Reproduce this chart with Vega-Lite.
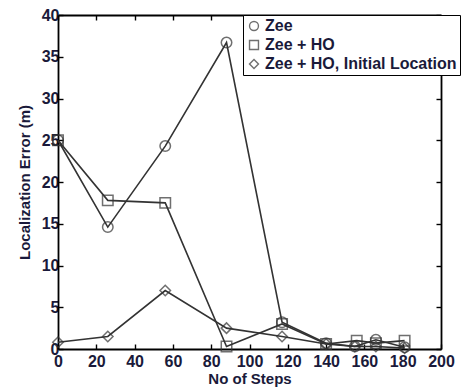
{
  "$schema": "https://vega.github.io/schema/vega-lite/v6.json",
  "autosize": "none",
  "width": 383,
  "height": 334,
  "padding": {"left": 58, "top": 15, "right": 25, "bottom": 42},
  "background": "white",
  "config": {
    "font": "Liberation Sans",
    "view": {"stroke": null},
    "axis": {
      "domainColor": "black", "domainWidth": 1.8, "tickColor": "black",
      "tickSize": -5, "tickWidth": 1.4, "grid": false, "labelFlush": false,
      "labelFont": "Liberation Sans", "labelFontWeight": "bold", "labelFontSize": 16, "labelColor": "#1a1a3a",
      "titleFont": "Liberation Sans", "titleFontWeight": "bold", "titleFontSize": 15, "titleColor": "#1a1a3a"
    }
  },
  "data": {"values": [
    {"series": "Zee", "steps": 0, "err": 25.0},
    {"series": "Zee", "steps": 26, "err": 14.6},
    {"series": "Zee", "steps": 56, "err": 24.3},
    {"series": "Zee", "steps": 88, "err": 36.7},
    {"series": "Zee", "steps": 117, "err": 3.2},
    {"series": "Zee", "steps": 140, "err": 0.7},
    {"series": "Zee", "steps": 155, "err": 0.3},
    {"series": "Zee", "steps": 166, "err": 1.1},
    {"series": "Zee", "steps": 181, "err": 0.2},
    {"series": "Zee + HO", "steps": 0, "err": 25.0},
    {"series": "Zee + HO", "steps": 26, "err": 17.8},
    {"series": "Zee + HO", "steps": 56, "err": 17.5},
    {"series": "Zee + HO", "steps": 88, "err": 0.3},
    {"series": "Zee + HO", "steps": 117, "err": 3.0},
    {"series": "Zee + HO", "steps": 140, "err": 0.6},
    {"series": "Zee + HO", "steps": 156, "err": 1.0},
    {"series": "Zee + HO", "steps": 166, "err": 0.7},
    {"series": "Zee + HO", "steps": 181, "err": 1.0},
    {"series": "Zee + HO, Initial Location", "steps": 0, "err": 0.8},
    {"series": "Zee + HO, Initial Location", "steps": 26, "err": 1.5},
    {"series": "Zee + HO, Initial Location", "steps": 56, "err": 7.0},
    {"series": "Zee + HO, Initial Location", "steps": 88, "err": 2.5},
    {"series": "Zee + HO, Initial Location", "steps": 117, "err": 1.5},
    {"series": "Zee + HO, Initial Location", "steps": 140, "err": 0.6},
    {"series": "Zee + HO, Initial Location", "steps": 155, "err": 0.3},
    {"series": "Zee + HO, Initial Location", "steps": 166, "err": 0.3},
    {"series": "Zee + HO, Initial Location", "steps": 181, "err": 0.1}
  ]},
  "layer": [
    {
      "mark": {"type": "line", "color": "#333", "strokeWidth": 1.6},
      "encoding": {
        "x": {"field": "steps", "type": "quantitative", "scale": {"domain": [0, 200], "nice": false},
              "axis": {"title": "No of Steps", "values": [0,20,40,60,80,100,120,140,160,180,200], "labelPadding": 9, "titlePadding": 2}},
        "y": {"field": "err", "type": "quantitative", "scale": {"domain": [0, 40], "nice": false},
              "axis": {"title": "Localization Error (m)", "values": [0,5,10,15,20,25,30,35,40], "labelPadding": 4, "titlePadding": 9}},
        "detail": {"field": "series"}
      }
    },
    {
      "mark": {"type": "point", "filled": false, "color": "#333", "strokeWidth": 1.5, "size": 110},
      "encoding": {
        "x": {"field": "steps", "type": "quantitative", "axis": null},
        "y": {"field": "err", "type": "quantitative", "axis": null},
        "shape": {"field": "series", "type": "nominal",
          "scale": {"domain": ["Zee", "Zee + HO", "Zee + HO, Initial Location"], "range": ["circle", "square", "diamond"]},
          "legend": {"title": null, "orient": "none", "legendX": 185, "legendY": 0,
            "strokeColor": "black", "fillColor": "white", "padding": 3, "rowPadding": 3,
            "labelFont": "Liberation Sans", "labelFontWeight": "bold", "labelFontSize": 16, "labelColor": "#1a1a3a",
            "symbolSize": 80, "symbolStrokeColor": "#333", "symbolStrokeWidth": 1.4, "symbolFillColor": "transparent",
            "labelLimit": 300, "symbolOffset": 0, "labelOffset": 3}}
      }
    },
    {
      "mark": {"type": "line", "opacity": 0},
      "encoding": {
        "x": {"field": "steps", "type": "quantitative",
              "axis": {"orient": "top", "title": null, "labels": false, "values": [0,20,40,60,80,100,120,140,160,180,200]}},
        "y": {"field": "err", "type": "quantitative",
              "axis": {"orient": "right", "title": null, "labels": false, "values": [0,5,10,15,20,25,30,35,40]}},
        "detail": {"field": "series"}
      }
    }
  ],
  "resolve": {"axis": {"x": "independent", "y": "independent"}}
}
